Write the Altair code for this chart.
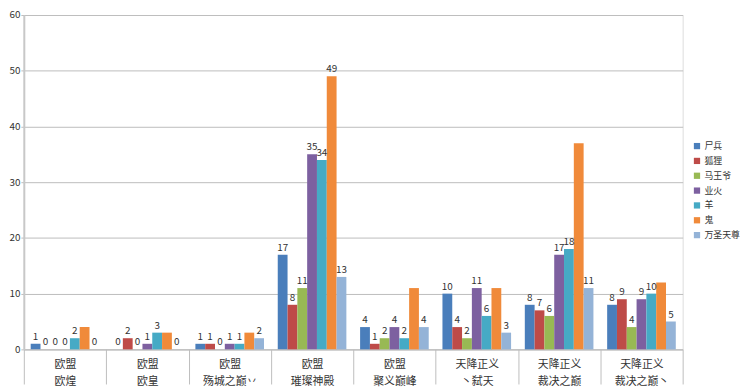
import altair as alt
import pandas as pd

categories = [
    "欧盟|欧煌", "欧盟|欧皇", "欧盟|殇城之巅丷", "欧盟|璀璨神殿",
    "欧盟|聚义巅峰", "天降正义|丶弑天", "天降正义|裁决之巅", "天降正义|裁决之巅丶",
]
series = ["尸兵", "狐狸", "马王爷", "业火", "羊", "鬼", "万圣天尊"]
colors = ["#4A7EBB", "#BE4B48", "#98B954", "#7D60A0", "#46AAC5", "#F08A3A", "#94B3D7"]

v_shibing = [1, 0, 1, 17, 4, 10, 8, 8]
v_huli = [0, 2, 1, 8, 1, 4, 7, 9]
v_mawangye = [0, 0, 0, 11, 2, 2, 6, 4]
v_yehuo = [0, 1, 1, 35, 4, 11, 17, 9]
v_yang = [2, 3, 1, 34, 2, 6, 18, 10]
v_gui = [4, 3, 3, 49, 11, 11, 37, 12]
v_wansheng = [0, 0, 2, 13, 4, 3, 11, 5]

# data labels as shown (the orange series only shows its label in one group)
l_shibing = ["1", "0", "1", "17", "4", "10", "8", "8"]
l_huli = ["0", "2", "1", "8", "1", "4", "7", "9"]
l_mawangye = ["0", "0", "0", "11", "2", "2", "6", "4"]
l_yehuo = ["0", "1", "1", "35", "4", "11", "17", "9"]
l_yang = ["2", "3", "1", "34", "2", "6", "18", "10"]
l_gui = ["", "", "", "49", "", "", "", ""]
l_wansheng = ["0", "0", "2", "13", "4", "3", "11", "5"]

all_values = [v_shibing, v_huli, v_mawangye, v_yehuo, v_yang, v_gui, v_wansheng]
all_labels = [l_shibing, l_huli, l_mawangye, l_yehuo, l_yang, l_gui, l_wansheng]

rows = []
for s, vals, labs in zip(series, all_values, all_labels):
    for c, v, l in zip(categories, vals, labs):
        rows.append({"cat": c, "series": s, "value": v, "label": l})
df = pd.DataFrame(rows)

FONT = "Noto Sans CJK SC"
GRAY = "#BDBDBD"

x_enc = alt.X(
    "cat:N", sort=categories, title=None,
    scale=alt.Scale(paddingInner=0, paddingOuter=0),
    axis=alt.Axis(
        labelExpr="split(datum.label, '|')", labelAngle=0, labelLineHeight=18,
        labelFontSize=11, labelFont=FONT, labelColor="#333333",
        tickBand="extent", tickSize=35, tickColor=GRAY, tickWidth=1,
        domainColor=GRAY, domainWidth=1, labelPadding=-26, grid=False,
    ),
)
xoff = alt.XOffset("series:N", sort=series, scale=alt.Scale(paddingOuter=0.7, paddingInner=0))

base = alt.Chart(df)

bars = base.mark_bar().encode(
    x=x_enc,
    xOffset=xoff,
    y=alt.Y(
        "value:Q", title=None,
        scale=alt.Scale(domain=[0, 60], nice=False),
        axis=alt.Axis(
            values=[0, 10, 20, 30, 40, 50, 60], grid=True, gridColor=GRAY, gridWidth=1,
            domainColor="#C8C8C8", domainWidth=2, tickColor=GRAY, tickSize=3,
            labelFontSize=10, labelFont=FONT, labelColor="#333333", labelPadding=1,
        ),
    ),
    color=alt.Color(
        "series:N", sort=series, scale=alt.Scale(domain=series, range=colors),
        legend=alt.Legend(
            title=None, orient="none", legendX=676, legendY=128,
            symbolType="square", symbolSize=40, symbolStrokeWidth=0,
            labelFontSize=9, labelFont=FONT, labelColor="#333333",
            rowPadding=5, labelOffset=3,
        ),
    ),
)

texts = base.mark_text(dy=-7, fontSize=10, font=FONT, color="#333333").encode(
    x=alt.X("cat:N", sort=categories),
    xOffset=xoff,
    y=alt.Y("value:Q"),
    text="label:N",
)

chart = (
    alt.layer(bars, texts)
    .properties(
        width=666, height=338,
        autosize=alt.AutoSizeParams(type="none"),
        padding={"left": 16, "top": 5, "right": 60, "bottom": 40},
    )
    .configure_view(stroke=None)
    .configure(background="white")
)

chart.save("out.html", embed_options={"renderer": "svg", "actions": False})
